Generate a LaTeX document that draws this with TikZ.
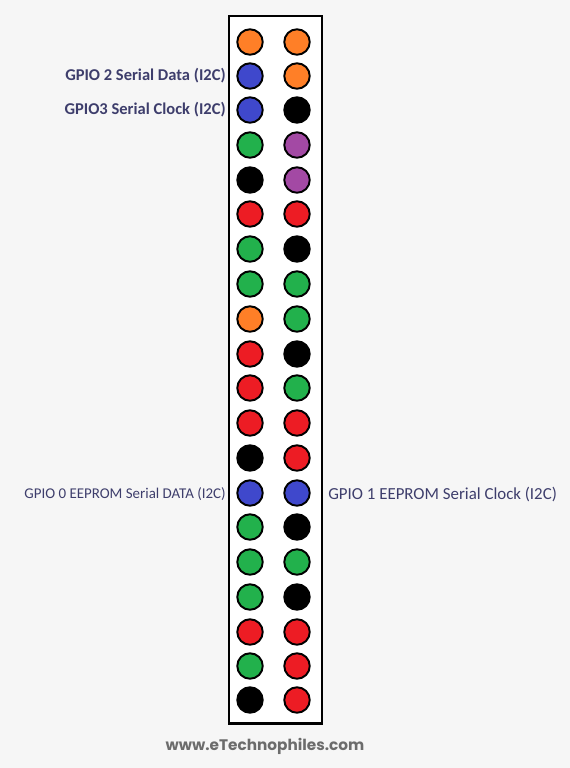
\documentclass[tikz,border=0pt]{standalone}
\usepackage{fontspec}
\setmainfont{Carlito}
\newfontfamily\webfont{Poppins}
\definecolor{pinorange}{RGB}{255,127,39}
\definecolor{pinblue}{RGB}{63,72,204}
\definecolor{pingreen}{RGB}{34,177,76}
\definecolor{pinred}{RGB}{237,28,36}
\definecolor{pinpurple}{RGB}{163,73,164}
\definecolor{labelblue}{RGB}{62,62,108}
\definecolor{paper}{RGB}{246,246,246}
\tikzset{
  pin/.style={circle,draw=black,line width=1.1pt,inner sep=0pt,minimum size=14.5pt},
  gpiolabel/.style={text=labelblue,font=\bfseries,inner sep=0pt}
}
\begin{document}
\begin{tikzpicture}[x=0.02cm,y=-0.02cm]
    \fill[paper] (0,0) rectangle (570,768);
    \useasboundingbox (0,0) rectangle (570,768);
    \draw[line width=1.7pt,fill=white] (229,16) rectangle (322,723);

    % left row of the header
    \node[pin,fill=pinorange] (l1) at (250,42) {};
    \node[pin,fill=pinblue] (l2) at (250,76) {};
    \node[pin,fill=pinblue] (l3) at (250,110) {};
    \node[pin,fill=pingreen] (l4) at (250,145) {};
    \node[pin,fill=black] (l5) at (250,180) {};
    \node[pin,fill=pinred] (l6) at (250,214) {};
    \node[pin,fill=pingreen] (l7) at (250,249) {};
    \node[pin,fill=pingreen] (l8) at (250,284) {};
    \node[pin,fill=pinorange] (l9) at (250,319) {};
    \node[pin,fill=pinred] (l10) at (250,354) {};
    \node[pin,fill=pinred] (l11) at (250,388) {};
    \node[pin,fill=pinred] (l12) at (250,423) {};
    \node[pin,fill=black] (l13) at (250,458) {};
    \node[pin,fill=pinblue] (l14) at (250,493) {};
    \node[pin,fill=pingreen] (l15) at (250,527) {};
    \node[pin,fill=pingreen] (l16) at (250,562) {};
    \node[pin,fill=pingreen] (l17) at (250,597) {};
    \node[pin,fill=pinred] (l18) at (250,632) {};
    \node[pin,fill=pingreen] (l19) at (250,666) {};
    \node[pin,fill=black] (l20) at (250,700) {};

    % right row of the header
    \node[pin,fill=pinorange] (r1) at (297,42) {};
    \node[pin,fill=pinorange] (r2) at (297,76) {};
    \node[pin,fill=black] (r3) at (297,110) {};
    \node[pin,fill=pinpurple] (r4) at (297,145) {};
    \node[pin,fill=pinpurple] (r5) at (297,180) {};
    \node[pin,fill=pinred] (r6) at (297,214) {};
    \node[pin,fill=black] (r7) at (297,249) {};
    \node[pin,fill=pingreen] (r8) at (297,284) {};
    \node[pin,fill=pingreen] (r9) at (297,319) {};
    \node[pin,fill=black] (r10) at (297,354) {};
    \node[pin,fill=pingreen] (r11) at (297,388) {};
    \node[pin,fill=pinred] (r12) at (297,423) {};
    \node[pin,fill=pinred] (r13) at (297,458) {};
    \node[pin,fill=pinblue] (r14) at (297,493) {};
    \node[pin,fill=black] (r15) at (297,527) {};
    \node[pin,fill=pingreen] (r16) at (297,562) {};
    \node[pin,fill=black] (r17) at (297,597) {};
    \node[pin,fill=pinred] (r18) at (297,632) {};
    \node[pin,fill=pinred] (r19) at (297,666) {};
    \node[pin,fill=pinred] (r20) at (297,700) {};

    \node[gpiolabel,anchor=east,font=\bfseries\fontsize{9.4}{11}\selectfont] (sda) at (226,76) {GPIO 2 Serial Data (I2C)};
    \node[gpiolabel,anchor=east,font=\bfseries\fontsize{9.4}{11}\selectfont] (scl) at (226,110) {GPIO3 Serial Clock (I2C)};
    \node[gpiolabel,anchor=east,font=\fontsize{8.5}{10}\selectfont] (idsd) at (226,494) {GPIO 0 EEPROM Serial DATA (I2C)};
    \node[gpiolabel,anchor=west,font=\fontsize{9.6}{11}\selectfont] (idsc) at (328,494) {GPIO 1 EEPROM Serial Clock (I2C)};
    \node[text=gray!85!black,font=\webfont\bfseries\fontsize{8.7}{10}\selectfont] (web) at (265,746) {www.eTechnophiles.com};
\end{tikzpicture}
\end{document}
